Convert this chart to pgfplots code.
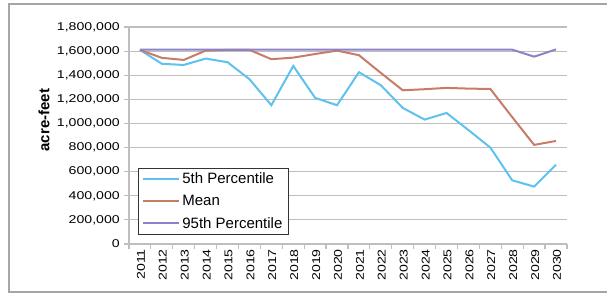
\documentclass[border=0pt]{standalone}
\usepackage{pgfplots}
\pgfplotsset{compat=1.18}
\usepackage{fontspec}
\setmainfont{Liberation Sans}
\newfontfamily\tickfont[FakeStretch=1.25]{Liberation Sans}
\definecolor{cblue}{RGB}{94,193,238}
\definecolor{cmean}{RGB}{200,124,104}
\definecolor{cpurp}{RGB}{140,130,200}
\definecolor{cgrid}{RGB}{190,190,190}
\definecolor{cframe}{RGB}{165,165,165}
\begin{document}
\begin{tikzpicture}[x=1pt,y=1pt]
\useasboundingbox (0,0) rectangle (607,295);
\draw[cframe,line width=1.3pt] (607,291) -- (9,291) -- (9,3) -- (607,3);
\begin{axis}[
  at={(129pt,51pt)}, anchor=south west,
  scale only axis, width=438pt, height=217pt,
  xmin=2010.5, xmax=2030.5, ymin=0, ymax=1800000,
  axis lines*=left,
  axis line style={cgrid, line width=1.2pt},
  xtick={2011,...,2030},
  xticklabels={2011,2012,2013,2014,2015,2016,2017,2018,2019,2020,2021,2022,2023,2024,2025,2026,2027,2028,2029,2030},
  minor xtick={2010.5,2011.5,...,2030.5},
  major x tick style={draw=none},
  minor x tick style={cgrid, line width=1.2pt},
  minor tick length=5pt,
  ytick={0,200000,...,1800000},
  major tick length=5pt,
  y tick style={cgrid, line width=1.2pt},
  tick align=outside,
  ymajorgrids,
  grid style={cgrid, line width=1.2pt},
  scaled y ticks=false,
  /pgf/number format/.cd, fixed, 1000 sep={,}, assume math mode=true,
  /pgfplots/.cd,
  yticklabel style={font=\tickfont\fontsize{11.3}{13}\selectfont, inner sep=0pt, xshift=-4pt},
  xticklabel style={font=\tickfont\fontsize{11.3}{13}\selectfont, rotate=90, anchor=east, inner sep=0pt, yshift=-1pt},
  ylabel={\bfseries acre-feet},
  ylabel style={font=\fontsize{15}{18}\selectfont, at={(axis description cs:-0.194,0.571)}, anchor=center},
  legend style={at={(rel axis cs:0.0205,0.0415)}, anchor=south west,
    font=\fontsize{15}{18}\selectfont, draw=black!80, line width=0.8pt,
    inner xsep=4pt, inner ysep=3pt, row sep=6pt, cells={anchor=west}},
  legend image code/.code={\draw[#1, line width=2pt] (0pt,0pt) -- (36pt,0pt);},
  every axis plot/.append style={line width=2pt},
]
\addplot[cblue, mark=none] coordinates {
(2011,1610000) (2012,1495000) (2013,1485000) (2014,1538000) (2015,1508000)
(2016,1367000) (2017,1151000) (2018,1477000) (2019,1212000) (2020,1151000)
(2021,1425000) (2022,1317000) (2023,1129000) (2024,1032000) (2025,1087000)
(2026,945000) (2027,800000) (2028,528000) (2029,476000) (2030,658000)};
\addlegendentry{5th Percentile}
\addplot[cmean, mark=none] coordinates {
(2011,1610000) (2012,1544000) (2013,1527000) (2014,1604000) (2015,1610000)
(2016,1610000) (2017,1533000) (2018,1546000) (2019,1576000) (2020,1604000)
(2021,1566000) (2022,1419000) (2023,1275000) (2024,1284000) (2025,1295000)
(2026,1289000) (2027,1286000) (2028,1052000) (2029,822000) (2030,855000)};
\addlegendentry{Mean}
\addplot[cpurp, mark=none] coordinates {
(2011,1612000) (2012,1612000) (2013,1612000) (2014,1612000) (2015,1612000)
(2016,1612000) (2017,1612000) (2018,1612000) (2019,1612000) (2020,1612000)
(2021,1612000) (2022,1612000) (2023,1612000) (2024,1612000) (2025,1612000)
(2026,1612000) (2027,1612000) (2028,1612000) (2029,1554000) (2030,1614000)};
\addlegendentry{95th Percentile}
\end{axis}
\end{tikzpicture}
\end{document}
